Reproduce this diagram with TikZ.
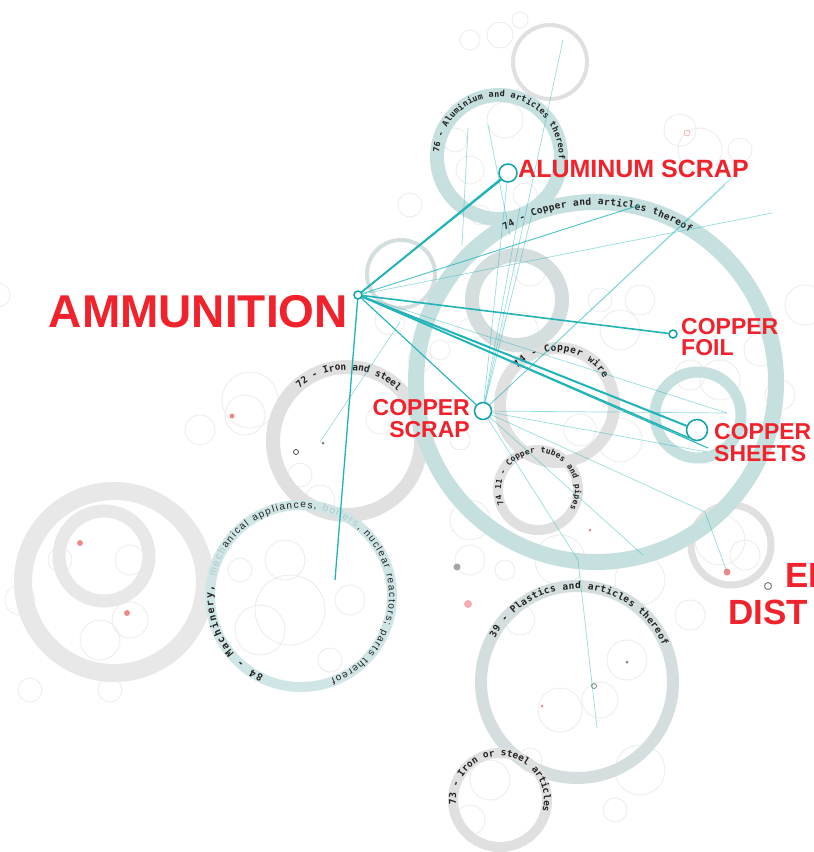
\documentclass[tikz,border=0pt]{standalone}
\usepackage{fontspec}
\setmainfont{Liberation Sans}
\newfontfamily\ringmono{DejaVu Sans Mono}
\newcommand\ringfont[1]{\ringmono\bfseries\fontsize{#1}{10}\selectfont}
\definecolor{ringteal}{HTML}{C6E0E0}
\definecolor{ringtealb}{HTML}{D0E6E6}
\definecolor{ringmix}{HTML}{D5DEDE}
\definecolor{ringgray}{HTML}{E0E0E0}
\definecolor{ringgrayb}{HTML}{E8E8E8}
\definecolor{faintgray}{HTML}{ECECEC}
\definecolor{linkteal}{HTML}{20B4B8}
\definecolor{linkdk}{HTML}{10A2A8}
\definecolor{alertred}{HTML}{F0222C}
\definecolor{ringtxt}{HTML}{222222}
\definecolor{ringfade}{HTML}{B4C6C6}
\definecolor{dotred}{HTML}{EE8A8E}
\usetikzlibrary{decorations.text}

\begin{document}
\begin{tikzpicture}[x=1pt, y=-1pt,
  ring/.style={draw=#1},
  faint/.style={draw=faintgray, line width=0.8pt},
  hub/.style={circle, draw=linkdk, line width=1.5pt, fill=white,
    inner sep=0pt, minimum size=#1},
  link/.style={draw=linkteal, line width=1.6pt},
  flink/.style={draw=linkteal, line width=0.7pt, opacity=0.45},
  redlbl/.style={text=alertred, inner sep=0pt},
  arctext/.style 2 args={decorate, decoration={text along path,
    text align={fit to path}, text={|\color{ringtxt}\ringfont{#1}|#2}}},
]
  \clip (0,0) rectangle (814,852);
  \fill[white] (0,0) rectangle (814,852);

  % faint background bubbles
  \foreach \x/\y/\r in {500/35/13,470/40/10,520/20/8,455/140/12,470/170/14,505/120/18,
    525/195/12,480/215/10,410/205/12,390/320/15,420/360/12,380/420/14,300/475/12,
    320/500/15,245/415/20,200/430/15,250/400/28,470/330/12,520/330/18,530/270/16,
    620/330/20,640/300/15,600/300/12,690/375/15,720/380/20,760/350/16,780/395/15,
    805/305/20,790/450/12,620/440/22,580/430/16,470/520/20,470/560/15,505/570/10,
    520/620/15,560/560/25,640/580/25,690/615/15,627/660/20,600/700/18,560/710/22,
    530/760/12,640/770/25,615/810/12,285/560/20,260/630/25,290/610/35,330/660/12,
    350/600/15,240/570/12,60/560/12,130/620/18,20/600/15,100/640/20,130/560/15,
    30/690/12,110/690/12,490/780/20,470/820/15,720/540/25,745/555/15,-2/295/12,
    460/440/10,440/350/10,680/130/16,700/150/22,740/150/12}
    \draw[faint] (\x,\y) circle[radius=\r];

  % group rings
  \foreach \x/\y/\r/\w/\c in {114/582/91/18/ringgrayb,104/556/45/13/ringgrayb,
    550/62/37/4/ringgray,401/274/34/4/ringmix,347/441/74/14/ringgray,
    731/545/40/7/ringgray,577/682/96/12/ringmix,500/800/47/10/ringgray,
    557/405/57/12/ringgray,538/490/40/10/ringgray,301/596/91/10/ringtealb,
    517/300/45/14/ringmix,698/415/43/11/ringteal,499/157/62/14/ringteal,
    596/382/180/16/ringteal}
    \draw[ring=\c, line width=\w] (\x,\y) circle[radius=\r];

  % ring captions
  \path[arctext={8.5}{76 - Aluminium and articles thereof}]
    (499,157) ++(-176:60) arc[start angle=-176, end angle=2, radius=60];
  \path[arctext={9.5}{74 - Copper and articles thereof}]
    (596,382) ++(-121:177) arc[start angle=-121, end angle=-58, radius=177];
  \path[arctext={9.5}{72 - Iron and steel}]
    (347,441) ++(-132:71) arc[start angle=-132, end angle=-45, radius=71];
  \path[arctext={9.5}{74 - Copper wire}]
    (557,405) ++(-137:54) arc[start angle=-137, end angle=-30, radius=54];
  \path[arctext={8}{74 11 - Copper tubes and pipes}]
    (538,490) ++(-203:37) arc[start angle=-203, end angle=30, radius=37];
  \path[arctext={10}{84 - Machinery, |\color{ringfade}|mech|\color{ringtxt}|anical appliances, |\color{ringfade}|boilers|\color{ringtxt}|, nuclear reactors; parts thereof}]
    (301,596) ++(-245:88) arc[start angle=-245, end angle=70, radius=88];
  \path[arctext={9.5}{39 - Plastics and articles thereof}]
    (577,682) ++(-152:93) arc[start angle=-152, end angle=-23, radius=93];
  \path[arctext={9.5}{73 - Iron or steel articles}]
    (500,800) ++(-186:44) arc[start angle=-186, end angle=12, radius=44];

  % loose dots
  \foreach \x/\y/\r in {232/416/2.5,80/543/3,127/613/3,727/572/3.5,542/706/1.5,590/530/1.5}
    \fill[dotred] (\x,\y) circle[radius=\r];
  \fill[dotred!70] (468,604) circle[radius=4];
  \draw[dotred] (687,133) circle[radius=3];
  \fill[gray!70] (457,567) circle[radius=3.5];
  \draw[gray!60!black, line width=0.8pt] (296,452) circle[radius=2.5];
  \draw[gray, line width=0.8pt] (594,686) circle[radius=2.5];
  \fill[gray] (627,662) circle[radius=1.5];
  \fill[gray] (323,443) circle[radius=1.5];

  % products
  \node[hub=8pt]  (ammo)     at (358,295) {};
  \node[hub=18pt] (alscrap)  at (508,173) {};
  \node[hub=8pt]  (cufoil)   at (673,334) {};
  \node[hub=17pt] (cuscrap)  at (483,411) {};
  \node[hub=21pt] (cusheets) at (697,430) {};
  \node[circle, draw=gray, line width=1pt, fill=white, inner sep=0pt,
    minimum size=7pt] (eldot) at (768,586) {};

  % free ends
  \coordinate (machend) at (335,580);
  \coordinate (sheetend) at (708,448);
  \coordinate (upa) at (640,205);
  \coordinate (upb) at (772,213);
  \coordinate (rta) at (727,413);
  \coordinate (topa) at (563,40);
  \coordinate (topb) at (520,207);
  \coordinate (topc) at (533,210);
  \coordinate (nea) at (745,165);
  \coordinate (neb) at (725,185);
  \coordinate (rtb) at (707,452);
  \coordinate (bend) at (578,560);
  \coordinate (plast) at (597,728);
  \coordinate (sea) at (643,555);
  \coordinate (elbend) at (705,512);
  \coordinate (eldot2) at (727,572);
  \coordinate (irona) at (320,442);
  \coordinate (ironb) at (400,322);
  \coordinate (ala) at (488,125);
  \coordinate (alb) at (510,235);
  \coordinate (alc) at (468,128);
  \coordinate (ald) at (462,245);

  % trade links
  \draw[flink] (topa) -- (cuscrap);
  \draw[flink] (topb) -- (cuscrap);
  \draw[flink] (topc) -- (cuscrap);
  \draw[flink] (cuscrap) -- (nea);
  \draw[flink] (cuscrap) -- (neb);
  \draw[flink] (cuscrap) -- (rta);
  \draw[flink] (cuscrap) -- (rtb);
  \draw[flink] (cuscrap) -- (bend) -- (plast);
  \draw[flink] (cuscrap) -- (sea);
  \draw[flink] (cuscrap) -- (elbend) -- (eldot2);
  \draw[flink] (alscrap) -- (cuscrap);
  \draw[flink] (irona) -- (ironb);
  \draw[flink] (ala) -- (alb);
  \draw[flink] (alc) -- (ald);
  \draw[flink] (ammo) -- (upb);
  \draw[flink] (ammo) -- (rta);
  \draw[link, line width=0.9pt, opacity=0.8] (ammo) -- (upa);
  \draw[link] (ammo) -- (alscrap);
  \draw[link] (ammo) -- (alscrap.south west);
  \draw[link] (ammo) -- (cufoil);
  \draw[link, line width=2pt] (ammo) -- (cusheets);
  \draw[link] (ammo) -- (cusheets.south west);
  \draw[link, line width=1pt] (ammo) -- (sheetend);
  \draw[link, line width=1.1pt] (ammo) -- (cuscrap);
  \draw[link, line width=1.3pt] (ammo) -- (machend);

  % labels
  \node[redlbl, anchor=base east, font=\bfseries\fontsize{46}{46}\selectfont]
    (ammolbl) at (348,327) {AMMUNITION};
  \node[redlbl, anchor=base west, font=\bfseries\fontsize{25}{25}\selectfont]
    (alscraplbl) at (518,177) {ALUMINUM SCRAP};
  \node[redlbl, anchor=north west, align=left, font=\bfseries\fontsize{23}{21}\selectfont]
    (cufoillbl) at (681,318) {COPPER\\FOIL};
  \node[redlbl, anchor=north east, align=right, font=\bfseries\fontsize{23}{22}\selectfont]
    (cuscraplbl) at (470,399) {COPPER\\SCRAP};
  \node[redlbl, anchor=north west, align=left, font=\bfseries\fontsize{23}{22}\selectfont]
    (cusheetslbl) at (714,423) {COPPER\\SHEETS};
  \node[redlbl, anchor=north west, align=left, font=\bfseries\fontsize{35}{37}\selectfont]
    (ellbl) at (728,563) {\hspace*{57pt}EL\\DIST};
\end{tikzpicture}
\end{document}
